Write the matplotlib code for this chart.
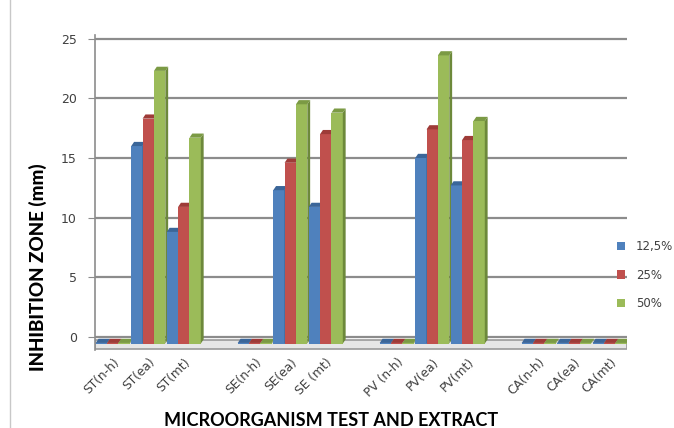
import matplotlib
matplotlib.use("Agg")
import matplotlib.pyplot as plt
from matplotlib.patches import Polygon, Rectangle
import numpy as np

# Categories (blank entries are spacer slots between organism groups)
categories = ["ST(n-h)", "ST(ea)", "ST(mt)", "",
              "SE(n-h)", "SE(ea)", "SE (mt)", "",
              "PV (n-h)", "PV(ea)", "PV(mt)", "",
              "CA(n-h)", "CA(ea)", "CA(mt)"]
series_names = ["12,5%", "25%", "50%"]
conc_125 = [0, 16.0, 8.8, None, 0, 12.3, 10.9, None, 0, 15.0, 12.7, None, 0, 0, 0]
conc_25 = [0, 18.3, 10.9, None, 0, 14.6, 17.0, None, 0, 17.4, 16.5, None, 0, 0, 0]
conc_50 = [0, 22.3, 16.7, None, 0, 19.5, 18.8, None, 0, 23.6, 18.1, None, 0, 0, 0]
series = [conc_125, conc_25, conc_50]

face_colors = ["#4F81BD", "#C0504D", "#9BBB59"]
top_colors = ["#3B6699", "#9E3B38", "#7B9A44"]
side_colors = ["#345B8A", "#8C3431", "#6D893B"]

fig = plt.figure(figsize=(6.74, 4.28), dpi=100)
fig.patches.append(Rectangle((0.015, -0.01), 0.99, 1.05, transform=fig.transFigure,
                             fill=False, edgecolor="#C8C8C8", lw=1.0))
ax = fig.add_axes([0.141, 0.182, 0.79, 0.736])

ymin, ymax = -1.1, 25.3
ax.set_xlim(-0.5, len(categories) - 0.5)
ax.set_ylim(ymin, ymax)

# back-wall gridlines
for g in range(0, 26, 5):
    ax.axhline(g, color="#8C8C8C", lw=1.6, zorder=0.5)

# floor band
ax.add_patch(Rectangle((-0.5, -1.0), len(categories), 0.75, facecolor="#E6E6E6",
                       edgecolor="#9A9A9A", lw=1.2, zorder=0.6))

bw = 0.32
dx, dy = 0.08, 0.35  # depth offset of the 3-D caps (data units)
x = np.arange(len(categories))
for si, vals in enumerate(series):
    for xi, v in zip(x, vals):
        if v is None:
            continue
        left = xi - 0.5 + si * bw + 0.02
        base = -0.55
        top = v if v > 0 else base + 0.05
        z = 2 + xi * 0.01 + si * 0.001
        # front face
        ax.add_patch(Rectangle((left, base), bw, top - base, facecolor=face_colors[si],
                               edgecolor="none", zorder=z))
        # right side face
        ax.add_patch(Polygon([[left + bw, base], [left + bw + dx, base + dy],
                              [left + bw + dx, top + dy], [left + bw, top]],
                             closed=True, facecolor=side_colors[si], edgecolor="none",
                             zorder=z))
        # top cap
        ax.add_patch(Polygon([[left, top], [left + dx, top + dy],
                              [left + bw + dx, top + dy], [left + bw, top]],
                             closed=True, facecolor=top_colors[si], edgecolor="none",
                             zorder=z))

for s in ["top", "right", "bottom"]:
    ax.spines[s].set_visible(False)
ax.spines["left"].set_color("#8C8C8C")
ax.spines["left"].set_linewidth(1.2)
ax.set_yticks(range(0, 26, 5))
ax.tick_params(axis="y", length=5, color="#8C8C8C", labelsize=9, labelcolor="#404040", pad=8)
ax.set_xticks(x)
ax.set_xticklabels(categories, rotation=45, ha="right", rotation_mode="anchor",
                   fontsize=8.8, color="#404040")
ax.tick_params(axis="x", length=0, pad=4)

ax.set_ylabel("INHIBITION ZONE (mm)", fontsize=13.5, fontweight="black",
              family="Lato")
ax.yaxis.set_label_coords(-0.09, 0.263)
ax.set_xlabel("MICROORGANISM TEST AND EXTRACT", fontsize=13, fontweight="bold",
              family="Lato")
ax.xaxis.set_label_coords(0.443, -0.195)

# legend
handles = [Rectangle((0, 0), 1, 1, facecolor=c) for c in face_colors]
leg = fig.legend(handles, series_names, loc="center left", bbox_to_anchor=(0.9, 0.357),
                 frameon=False, fontsize=8.5, handlelength=0.7, handleheight=0.7,
                 labelspacing=1.3, handletextpad=0.9, labelcolor="#404040")

fig.savefig("out.png", dpi=100)
